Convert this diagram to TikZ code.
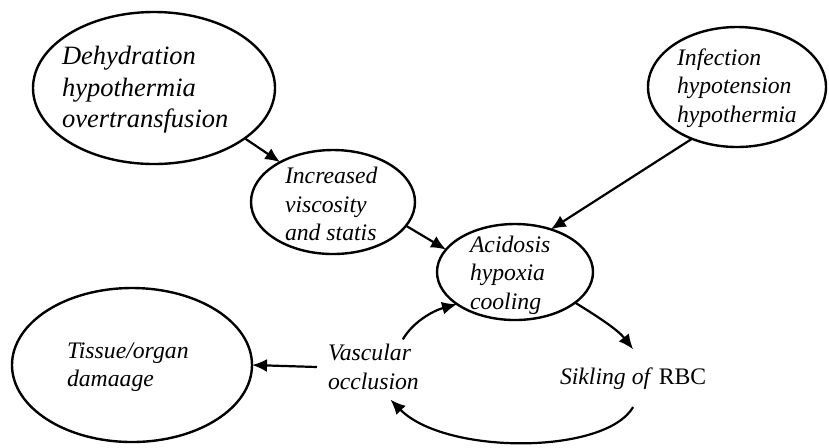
\documentclass[tikz,border=0pt]{standalone}
\usepackage{fontspec}
\setmainfont{Liberation Serif}
\usetikzlibrary{shapes.geometric,arrows.meta}
\begin{document}
\begin{tikzpicture}[x=0.5pt,y=-0.5pt,
  ell/.style={draw,ellipse,line width=1.2pt,inner sep=0pt,outer sep=0pt},
  lbl/.style={inner sep=0pt,outer sep=0pt,align=left,anchor=west,font=\fontsize{11.85}{14.2}\selectfont\itshape},
  biglbl/.style={lbl,font=\fontsize{13.25}{15.75}\selectfont\itshape},
  conn/.style={line width=1.1pt,-{Latex[length=7.5pt,width=6.5pt]}}]
\useasboundingbox (0,0) rectangle (829,447);
% ellipses
\node[ell,minimum width=121pt,minimum height=76pt] (e1) at (154,88) {};
\node[ell,minimum width=82pt,minimum height=52pt] (e2) at (333,202) {};
\node[ell,minimum width=78pt,minimum height=48pt] (e3) at (515,272) {};
\node[ell,minimum width=89pt,minimum height=60pt] (e4) at (737,87) {};
\node[ell,minimum width=120pt,minimum height=77pt] (e5) at (132,365) {};
% texts
\node[biglbl] (t1) at (62,90) {Dehydration\\hypothermia\\overtransfusion};
\node[lbl] (t2) at (285,204) {Increased\\viscosity\\and statis};
\node[lbl] (t3) at (470,275) {Acidosis\\hypoxia\\cooling};
\node[lbl] (t4) at (677,88) {Infection\\hypotension\\hypothermia};
\node[lbl] (t5) at (67,367) {Tissue/organ\\damaage};
\node[lbl] (vas) at (328,367) {Vascular\\occlusion};
\node[lbl,anchor=base west,inner ysep=9pt] (sik) at (560,384) {Sikling of\/ \upshape RBC};
% connectors
\draw[conn] (e1.-29.5) -- (e2.143);
\draw[conn] (e2.-18.7) -- (e3.162.5);
\draw[conn] (e4.229.7) -- (e3.50);
\draw[conn] (e3.-27) .. controls (600,318) and (618,330) .. (sik.north);
\draw[conn] (sik.south) .. controls (605,455) and (445,455) .. ([shift={(17,10)}]vas.south);
\draw[conn] ([shift={(-16,-5)}]vas.north east) .. controls (412,323) and (432,311) .. (e3.209.5);
\draw[conn] ([xshift=-5.5pt]vas.west) -- (e5.east);
\end{tikzpicture}
\end{document}
